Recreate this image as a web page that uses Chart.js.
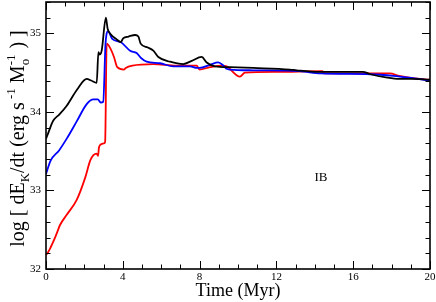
<!DOCTYPE html>
<html><head><meta charset="utf-8">
<script src="https://cdn.jsdelivr.net/npm/chart.js@4.4.1/dist/chart.umd.min.js"></script>
<style>html,body{margin:0;padding:0;background:#fff}canvas{display:block}</style>
</head><body>
<canvas id="c" width="436" height="302"></canvas>
<script>
// ---- data ----
const blackTime = [0, 0.1, 0.25, 0.38, 0.7, 1.08, 1.63, 2.12, 2.35, 2.64, 2.73, 2.8, 2.9, 3.12, 3.21, 3.37, 3.65, 3.89, 4.03, 4.3, 4.64, 4.81, 4.93, 5.3, 5.59, 5.85, 6.46, 7.15, 7.59, 8.11, 8.37, 8.8, 9.58, 10.8, 12.7, 13.06, 14.3, 16.5, 16.9, 17.7, 18.4, 19.0, 20];
const blackLogEk = [33.66, 33.72, 33.82, 33.89, 33.97, 34.08, 34.29, 34.42, 34.40, 34.37, 34.76, 34.73, 34.78, 35.20, 35.06, 34.99, 34.93, 34.89, 34.94, 34.96, 34.98, 34.96, 34.87, 34.82, 34.78, 34.70, 34.64, 34.61, 34.65, 34.70, 34.63, 34.58, 34.57, 34.56, 34.54, 34.53, 34.51, 34.51, 34.48, 34.44, 34.42, 34.42, 34.41];

const blueTime = [0, 0.24, 0.68, 1.08, 1.6, 2.12, 2.47, 2.7, 2.85, 2.98, 3.1, 3.16, 3.23, 3.45, 3.89, 4.38, 4.72, 4.98, 5.24, 5.94, 6.63, 7.5, 7.85, 8.0, 8.54, 8.97, 9.24, 9.41, 9.58, 10.8, 13.2, 14.3, 16.9, 18.1, 19.1, 20];
const blueLogEk = [33.21, 33.38, 33.51, 33.66, 33.88, 34.10, 34.16, 34.16, 34.12, 34.13, 34.87, 35.00, 35.03, 34.93, 34.89, 34.78, 34.75, 34.68, 34.64, 34.62, 34.58, 34.58, 34.56, 34.56, 34.60, 34.63, 34.59, 34.55, 34.54, 34.53, 34.52, 34.49, 34.48, 34.46, 34.43, 34.40];

const redTime = [0, 0.1, 0.25, 0.42, 0.6, 0.73, 1.08, 1.6, 2.05, 2.3, 2.47, 2.64, 2.71, 2.76, 2.88, 3.02, 3.08, 3.16, 3.37, 3.54, 3.71, 4.06, 4.15, 4.5, 5.59, 6.8, 7.85, 7.99, 8.54, 9.15, 9.41, 10.1, 10.36, 12, 14.4, 14.5, 17.9, 18.4, 19.1, 20];
const redLogEk = [32.18, 32.21, 32.28, 32.37, 32.48, 32.56, 32.69, 32.88, 33.17, 33.38, 33.45, 33.47, 33.44, 33.55, 33.59, 33.60, 33.62, 34.87, 34.80, 34.70, 34.57, 34.54, 34.56, 34.59, 34.61, 34.59, 34.59, 34.54, 34.57, 34.59, 34.58, 34.45, 34.50, 34.51, 34.52, 34.49, 34.49, 34.46, 34.43, 34.41];

const xTickValues = [0, 4, 8, 12, 16, 20];
const yTickValues = [32, 33, 34, 35];
const xRange = [0, 20];
const yRange = [32, 35.4];
const xTitle = 'Time (Myr)';
const panelLabel = 'IB';
const panelLabelPos = [14.32, 33.17];

// ---- chart ----
const SERIF = '"Liberation Serif", "Times New Roman", serif';
const pts = (t, v) => t.map((x, i) => ({x, y: v[i]}));

const framePlugin = {
  id: 'frame',
  afterDatasetsDraw(chart) {
    const {ctx, chartArea: a, scales: {x, y}} = chart;
    ctx.save();
    ctx.strokeStyle = '#000';
    ctx.lineWidth = 1;
    const seg = (x1, y1, x2, y2) => { ctx.beginPath(); ctx.moveTo(x1, y1); ctx.lineTo(x2, y2); ctx.stroke(); };
    for (let t = xRange[0]; t <= xRange[1]; t += 1) {
      const px = Math.round(x.getPixelForValue(t)) + 0.5;
      const L = (t % 4 === 0) ? 8 : 4.5;
      seg(px, a.bottom, px, a.bottom - L);
      seg(px, a.top, px, a.top + L);
    }
    for (let k = 0; k <= 17; k++) {
      const v = yRange[0] + k * 0.2;
      const py = Math.round(y.getPixelForValue(v)) + 0.5;
      const L = (k % 5 === 0) ? 8 : 4.5;
      seg(a.left, py, a.left + L, py);
      seg(a.right, py, a.right - L, py);
    }
    ctx.lineWidth = 1.6;
    ctx.strokeRect(a.left, a.top, a.right - a.left, a.bottom - a.top);
    // panel label
    ctx.fillStyle = '#000';
    ctx.font = '13px ' + SERIF;
    ctx.textAlign = 'center';
    ctx.textBaseline = 'middle';
    ctx.fillText(panelLabel, x.getPixelForValue(panelLabelPos[0]), y.getPixelForValue(panelLabelPos[1]));
    ctx.restore();
  },
  afterDraw(chart) {
    const {ctx, chartArea: a} = chart;
    ctx.save();
    ctx.fillStyle = '#000';
    // x title
    ctx.font = '18px ' + SERIF;
    ctx.textAlign = 'center';
    ctx.textBaseline = 'alphabetic';
    ctx.fillText(xTitle, (a.left + a.right) / 2, 296);
    // y title with sub/superscripts
    const main = '20px ' + SERIF, small = '13px ' + SERIF;
    const parts = [
      {t: 'log [ dE', f: main, dy: 0},
      {t: 'K', f: small, dy: 5},
      {t: '/dt (erg s', f: main, dy: 0},
      {t: ' -1', f: small, dy: -9},
      {t: ' M', f: main, dy: 0},
      {t: 'o', f: small, dy: 5, sup: '-1'},
      {t: ' ) ]', f: main, dy: 0}
    ];
    let total = 0;
    parts.forEach(p => {
      ctx.font = p.f;
      p.w = ctx.measureText(p.t).width;
      if (p.sup) p.w = Math.max(p.w, ctx.measureText(p.sup).width + 1);
      total += p.w;
    });
    ctx.translate(24, 138.5);
    ctx.rotate(-Math.PI / 2);
    ctx.textAlign = 'left';
    let cx = -total / 2;
    parts.forEach(p => {
      ctx.font = p.f;
      ctx.fillText(p.t, cx, p.dy);
      if (p.sup) ctx.fillText(p.sup, cx, -9);
      cx += p.w;
    });
    ctx.restore();
  }
};

const ds = (label, t, v, color) => ({
  label, data: pts(t, v), borderColor: color, backgroundColor: color,
  borderWidth: 1.8, pointRadius: 0, cubicInterpolationMode: 'monotone', fill: false
});

new Chart(document.getElementById('c'), {
  type: 'line',
  data: {
    datasets: [
      ds('black', blackTime, blackLogEk, '#000000'),
      ds('blue', blueTime, blueLogEk, '#0000ff'),
      ds('red', redTime, redLogEk, '#ff0000')
    ]
  },
  options: {
    responsive: false,
    animation: false,
    devicePixelRatio: 1,
    layout: {padding: {top: 2, right: 6, left: 0, bottom: 0}},
    plugins: {legend: {display: false}, tooltip: {enabled: false}},
    scales: {
      x: {
        type: 'linear', min: xRange[0], max: xRange[1],
        grid: {display: false, drawTicks: false},
        border: {display: false},
        afterBuildTicks: s => { s.ticks = xTickValues.map(v => ({value: v})); },
        afterFit: s => { s.height = 33; s.paddingLeft = 0; s.paddingRight = 0; },
        ticks: {color: '#000', padding: 2, maxRotation: 0, autoSkip: false, font: {family: SERIF, size: 11}}
      },
      y: {
        type: 'linear', min: yRange[0], max: yRange[1],
        grid: {display: false, drawTicks: false},
        border: {display: false},
        afterBuildTicks: s => { s.ticks = yTickValues.map(v => ({value: v})); },
        afterFit: s => { s.width = 46; s.paddingTop = 0; s.paddingBottom = 0; },
        ticks: {color: '#000', padding: 5, autoSkip: false, font: {family: SERIF, size: 11}}
      }
    }
  },
  plugins: [framePlugin]
});
</script>
</body></html>
